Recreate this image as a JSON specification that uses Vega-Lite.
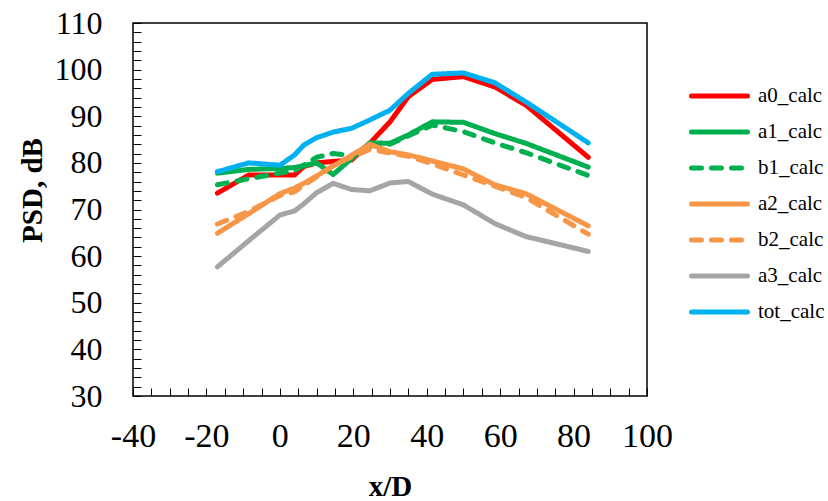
{
  "$schema": "https://vega.github.io/schema/vega-lite/v6.json",
  "width": 514,
  "height": 373,
  "autosize": {"type": "none"},
  "padding": {"left": 133, "top": 23, "right": 181, "bottom": 105},
  "background": "white",
  "data": {
    "values": [
      {"s": "a0_calc", "x": -17, "y": 73.5}, {"s": "a0_calc", "x": -8.5, "y": 77.4}, {"s": "a0_calc", "x": 0, "y": 77.4}, {"s": "a0_calc", "x": 4, "y": 77.4},
      {"s": "a0_calc", "x": 6.5, "y": 79.2}, {"s": "a0_calc", "x": 10, "y": 80.0}, {"s": "a0_calc", "x": 14.5, "y": 80.3}, {"s": "a0_calc", "x": 19.5, "y": 80.6},
      {"s": "a0_calc", "x": 24.5, "y": 84.2}, {"s": "a0_calc", "x": 30, "y": 88.8}, {"s": "a0_calc", "x": 35, "y": 94.2}, {"s": "a0_calc", "x": 41.5, "y": 97.9},
      {"s": "a0_calc", "x": 50, "y": 98.5}, {"s": "a0_calc", "x": 58.5, "y": 96.3}, {"s": "a0_calc", "x": 67, "y": 92.4}, {"s": "a0_calc", "x": 84, "y": 81.2},

      {"s": "a1_calc", "x": -17, "y": 77.8}, {"s": "a1_calc", "x": -8.5, "y": 78.6}, {"s": "a1_calc", "x": 0, "y": 78.8}, {"s": "a1_calc", "x": 4, "y": 79.0},
      {"s": "a1_calc", "x": 6.5, "y": 79.4}, {"s": "a1_calc", "x": 10, "y": 80.0}, {"s": "a1_calc", "x": 14.5, "y": 77.5}, {"s": "a1_calc", "x": 19.5, "y": 80.9},
      {"s": "a1_calc", "x": 24.5, "y": 84.3}, {"s": "a1_calc", "x": 30, "y": 84.2}, {"s": "a1_calc", "x": 35, "y": 86.0}, {"s": "a1_calc", "x": 41.5, "y": 88.8},
      {"s": "a1_calc", "x": 50, "y": 88.7}, {"s": "a1_calc", "x": 58.5, "y": 86.3}, {"s": "a1_calc", "x": 67, "y": 84.2}, {"s": "a1_calc", "x": 84, "y": 79.1},

      {"s": "b1_calc", "x": -17, "y": 75.3}, {"s": "b1_calc", "x": -8.5, "y": 76.6}, {"s": "b1_calc", "x": 0, "y": 77.8}, {"s": "b1_calc", "x": 4, "y": 78.3},
      {"s": "b1_calc", "x": 6.5, "y": 79.5}, {"s": "b1_calc", "x": 10, "y": 81.2}, {"s": "b1_calc", "x": 14.5, "y": 82.0}, {"s": "b1_calc", "x": 19.5, "y": 81.6},
      {"s": "b1_calc", "x": 24.5, "y": 83.6}, {"s": "b1_calc", "x": 30, "y": 84.0}, {"s": "b1_calc", "x": 35, "y": 85.8}, {"s": "b1_calc", "x": 41.5, "y": 88.1},
      {"s": "b1_calc", "x": 50, "y": 86.7}, {"s": "b1_calc", "x": 58.5, "y": 84.3}, {"s": "b1_calc", "x": 67, "y": 82.2}, {"s": "b1_calc", "x": 84, "y": 77.3},

      {"s": "a2_calc", "x": -17, "y": 64.9}, {"s": "a2_calc", "x": -8.5, "y": 69.1}, {"s": "a2_calc", "x": 0, "y": 73.4}, {"s": "a2_calc", "x": 4, "y": 74.6},
      {"s": "a2_calc", "x": 6.5, "y": 75.6}, {"s": "a2_calc", "x": 10, "y": 77.2}, {"s": "a2_calc", "x": 14.5, "y": 79.3}, {"s": "a2_calc", "x": 19.5, "y": 81.6},
      {"s": "a2_calc", "x": 24.5, "y": 84.0}, {"s": "a2_calc", "x": 30, "y": 82.4}, {"s": "a2_calc", "x": 35, "y": 81.7}, {"s": "a2_calc", "x": 41.5, "y": 80.4},
      {"s": "a2_calc", "x": 50, "y": 78.7}, {"s": "a2_calc", "x": 58.5, "y": 75.3}, {"s": "a2_calc", "x": 67, "y": 73.4}, {"s": "a2_calc", "x": 84, "y": 66.5},

      {"s": "b2_calc", "x": -17, "y": 66.9}, {"s": "b2_calc", "x": -8.5, "y": 69.6}, {"s": "b2_calc", "x": 0, "y": 73.0}, {"s": "b2_calc", "x": 4, "y": 73.8},
      {"s": "b2_calc", "x": 6.5, "y": 75.2}, {"s": "b2_calc", "x": 10, "y": 77.0}, {"s": "b2_calc", "x": 14.5, "y": 79.4}, {"s": "b2_calc", "x": 19.5, "y": 81.3},
      {"s": "b2_calc", "x": 24.5, "y": 82.9}, {"s": "b2_calc", "x": 30, "y": 82.1}, {"s": "b2_calc", "x": 35, "y": 81.4}, {"s": "b2_calc", "x": 41.5, "y": 79.8},
      {"s": "b2_calc", "x": 50, "y": 77.4}, {"s": "b2_calc", "x": 58.5, "y": 75.0}, {"s": "b2_calc", "x": 67, "y": 72.6}, {"s": "b2_calc", "x": 84, "y": 64.7},

      {"s": "a3_calc", "x": -17, "y": 57.7}, {"s": "a3_calc", "x": -8.5, "y": 63.3}, {"s": "a3_calc", "x": 0, "y": 68.8}, {"s": "a3_calc", "x": 4, "y": 69.7},
      {"s": "a3_calc", "x": 6.5, "y": 71.2}, {"s": "a3_calc", "x": 10, "y": 73.6}, {"s": "a3_calc", "x": 14.5, "y": 75.6}, {"s": "a3_calc", "x": 19.5, "y": 74.3},
      {"s": "a3_calc", "x": 24.5, "y": 74.0}, {"s": "a3_calc", "x": 30, "y": 75.7}, {"s": "a3_calc", "x": 35, "y": 76.0}, {"s": "a3_calc", "x": 41.5, "y": 73.3},
      {"s": "a3_calc", "x": 50, "y": 71.0}, {"s": "a3_calc", "x": 58.5, "y": 67.0}, {"s": "a3_calc", "x": 67, "y": 64.2}, {"s": "a3_calc", "x": 84, "y": 61.0},

      {"s": "tot_calc", "x": -17, "y": 78.1}, {"s": "tot_calc", "x": -8.5, "y": 80.0}, {"s": "tot_calc", "x": 0, "y": 79.5}, {"s": "tot_calc", "x": 4, "y": 81.7},
      {"s": "tot_calc", "x": 6.5, "y": 83.8}, {"s": "tot_calc", "x": 10, "y": 85.4}, {"s": "tot_calc", "x": 14.5, "y": 86.6}, {"s": "tot_calc", "x": 19.5, "y": 87.4},
      {"s": "tot_calc", "x": 24.5, "y": 89.2}, {"s": "tot_calc", "x": 30, "y": 91.3}, {"s": "tot_calc", "x": 35, "y": 94.9}, {"s": "tot_calc", "x": 41.5, "y": 99.0},
      {"s": "tot_calc", "x": 50, "y": 99.3}, {"s": "tot_calc", "x": 58.5, "y": 97.2}, {"s": "tot_calc", "x": 67, "y": 93.1}, {"s": "tot_calc", "x": 84, "y": 84.3}
    ]
  },
  "mark": {"type": "line", "strokeWidth": 5, "strokeCap": "round", "strokeJoin": "round"},
  "encoding": {
    "x": {
      "field": "x",
      "type": "quantitative",
      "scale": {"domain": [-40, 100], "nice": false, "zero": false},
      "axis": {
        "title": "x/D",
        "values": [-40, -35, -30, -25, -20, -15, -10, -5, 0, 5, 10, 15, 20, 25, 30, 35, 40, 45, 50, 55, 60, 65, 70, 75, 80, 85, 90, 95, 100],
        "labelExpr": "datum.value % 20 === 0 ? '' + datum.value : ''",
        "labelFontSize": 34,
        "labelPadding": 31,
        "titleFontSize": 29,
        "titlePadding": 19
      }
    },
    "y": {
      "field": "y",
      "type": "quantitative",
      "scale": {"domain": [30, 110], "nice": false, "zero": false},
      "axis": {
        "title": "PSD, dB",
        "values": [30, 32, 34, 36, 38, 40, 42, 44, 46, 48, 50, 52, 54, 56, 58, 60, 62, 64, 66, 68, 70, 72, 74, 76, 78, 80, 82, 84, 86, 88, 90, 92, 94, 96, 98, 100, 102, 104, 106, 108, 110],
        "labelExpr": "datum.value % 10 === 0 ? '' + datum.value : ''",
        "labelPadding": 39,
        "titleFontSize": 29,
        "titleAngle": -90,
        "titleBaseline": "middle",
        "titleAlign": "center",
        "titleX": -101,
        "titleY": 167
      }
    },
    "color": {
      "field": "s",
      "type": "nominal",
      "scale": {
        "domain": ["a0_calc", "a1_calc", "b1_calc", "a2_calc", "b2_calc", "a3_calc", "tot_calc"],
        "range": ["#FF0000", "#00B050", "#00B050", "#F79646", "#F79646", "#A5A5A5", "#00B0F0"]
      },
      "legend": {
        "title": null,
        "orient": "none",
        "legendX": 556,
        "legendY": 61,
        "encode": {"symbols": {"update": {"strokeCap": {"value": "round"}}}}
      }
    },
    "strokeDash": {
      "field": "s",
      "type": "nominal",
      "scale": {
        "domain": ["a0_calc", "a1_calc", "b1_calc", "a2_calc", "b2_calc", "a3_calc", "tot_calc"],
        "range": [[1, 0], [1, 0], [10, 10], [1, 0], [10, 10], [1, 0], [1, 0]]
      },
      "legend": {
        "title": null,
        "orient": "none",
        "legendX": 556,
        "legendY": 61,
        "encode": {"symbols": {"update": {"strokeCap": {"value": "round"}}}}
      }
    }
  },
  "config": {
    "view": {"stroke": "#000", "strokeWidth": 1.5},
    "font": "Liberation Serif",
    "axis": {
      "grid": false,
      "domain": false,
      "tickColor": "#000",
      "tickSize": -8,
      "tickWidth": 1,
      "labelFont": "Liberation Serif",
      "labelFontSize": 32,
      "labelColor": "#000",
      "labelOverlap": false,
      "labelFlush": false,
      "labelBound": false,
      "titleFont": "Liberation Serif",
      "titleFontWeight": "bold",
      "titleColor": "#000"
    },
    "legend": {
      "padding": 0,
      "symbolType": "stroke",
      "symbolSize": 3136,
      "symbolStrokeWidth": 5,
      "clipHeight": 24,
      "labelFont": "Liberation Serif",
      "labelFontSize": 21,
      "labelColor": "#000",
      "labelOffset": 8,
      "rowPadding": 12,
      "labelLimit": 200
    }
  }
}
